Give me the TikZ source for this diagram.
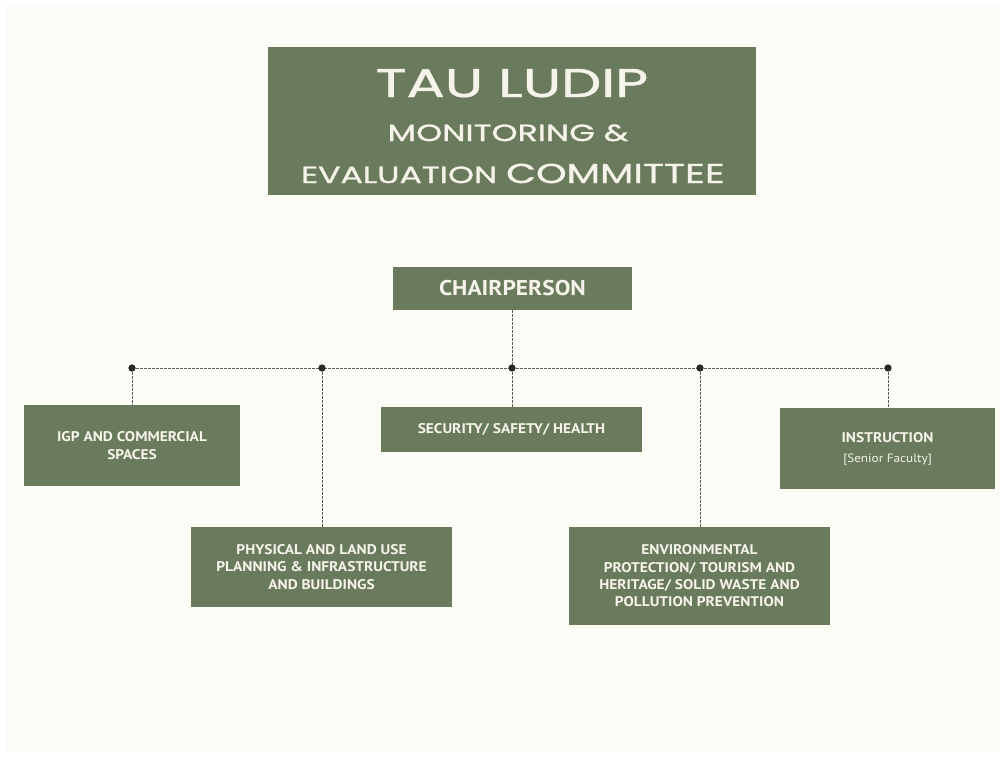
\documentclass[tikz,border=0pt]{standalone}
\usepackage{fontspec}
\setmainfont{PT Sans}
\newfontfamily\boxfont[FakeStretch=1.1]{PT Sans}
\newfontfamily\titlefont[FakeStretch=1.42,FakeBold=1.2]{Poppins}
\definecolor{bgcream}{RGB}{253,251,245}
\definecolor{boxgreen}{RGB}{106,122,92}
\definecolor{boxtext}{RGB}{246,244,234}
\definecolor{dotc}{RGB}{40,40,40}
\definecolor{linec}{RGB}{90,90,90}
\tikzset{
  box/.style={fill=boxgreen, draw=none, inner sep=0pt, text=boxtext, align=center,
    font=\boxfont\fontsize{10.5}{13}\selectfont\bfseries},
  ttl/.style={text=boxtext, inner sep=0pt, anchor=base},
  conn/.style={draw=linec, line width=0.6pt, dash pattern=on 2pt off 1pt},
  dotn/.style={circle, fill=dotc, inner sep=0pt, minimum size=5.5pt}
}
\begin{document}
\begin{tikzpicture}[x=0.75pt,y=-0.75pt]
\useasboundingbox (0,0) rectangle (1005,758);
\fill[white] (0,0) rectangle (1005,758);
\fill[bgcream] (6,6) rectangle (1000,752);
% title
\node[box, minimum width=366pt, minimum height=111pt] (title) at (512,121) {};
\node[ttl, font=\titlefont\fontsize{30}{30}\selectfont] (t1) at (512,97) {TAU LUDIP};
\node[ttl, font=\titlefont\fontsize{17.5}{17.5}\selectfont] (t2) at (508,141) {MONITORING \&};
\node[ttl, font=\titlefont\fontsize{17.5}{17.5}\selectfont] (t3) at (513,183) {EVALUATION {\fontsize{20.5}{20.5}\selectfont COMMITTEE}};
% chair
\node[box, minimum width=179.25pt, minimum height=32.25pt, font=\boxfont\fontsize{16}{16}\selectfont\bfseries] (chair) at (512.5,288.5) {CHAIRPERSON};
% children
\node[box, minimum width=162pt, minimum height=60.75pt] (igp) at (132,445.5) {IGP AND COMMERCIAL\\SPACES};
\node[box, minimum width=195.75pt, minimum height=33.75pt] (sec) at (511.5,429.5) {SECURITY/ SAFETY/ HEALTH};
\node[box, minimum width=161.25pt, minimum height=60.75pt] (ins) at (887.5,448.5) {INSTRUCTION\\[2pt]{\mdseries\fontsize{9}{12}\selectfont [Senior Faculty]}};
\node[box, minimum width=195.75pt, minimum height=60pt] (phys) at (321.5,567) {PHYSICAL AND LAND USE\\PLANNING \& INFRASTRUCTURE\\AND BUILDINGS};
\node[box, minimum width=195.75pt, minimum height=73.5pt] (env) at (699.5,576) {ENVIRONMENTAL\\PROTECTION/ TOURISM AND\\HERITAGE/ SOLID WASTE AND\\POLLUTION PREVENTION};
% bus
\coordinate (d1) at (132,368);
\coordinate (d2) at (322,368);
\coordinate (d3) at (512,368);
\coordinate (d4) at (700,368);
\coordinate (d5) at (888,368);
\draw[conn] (d1) -- (d5);
\draw[conn] (chair.south -| d3) -- (d3);
\draw[conn] (d1) -- (d1 |- igp.north);
\draw[conn] (d2) -- (d2 |- phys.north);
\draw[conn] (d3) -- (d3 |- sec.north);
\draw[conn] (d4) -- (d4 |- env.north);
\draw[conn] (d5) -- (d5 |- ins.north);
\foreach \d in {d1,d2,d3,d4,d5} \node[dotn] at (\d) {};
\end{tikzpicture}
\end{document}
